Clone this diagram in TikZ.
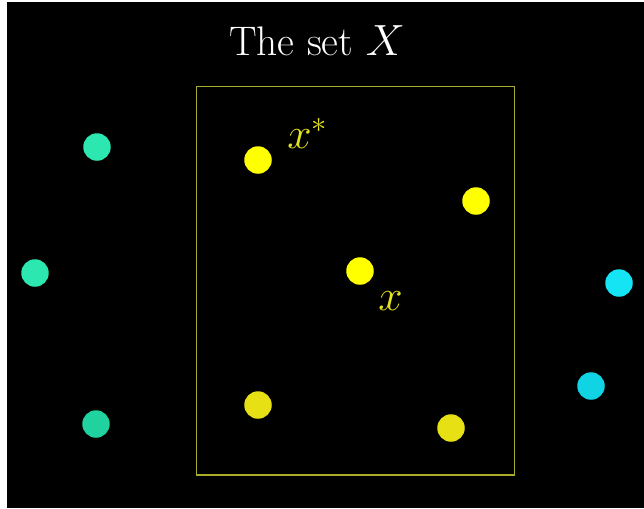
\documentclass[tikz,border=0pt]{standalone}
\usepackage{amsmath,amssymb}
\usepackage{tikz}
\usetikzlibrary{positioning}
\definecolor{sunny}{HTML}{FFFF00}
\definecolor{sunnydim}{HTML}{E6E014}
\definecolor{mint}{HTML}{2CE8B0}
\definecolor{mintdim}{HTML}{20D29E}
\definecolor{aqua}{HTML}{14E4F4}
\definecolor{aquadim}{HTML}{10D4E4}
\definecolor{olive}{HTML}{A8AC2A}
\definecolor{labelyel}{HTML}{E4E41E}

\begin{document}
\begin{tikzpicture}[x=0.02cm,y=-0.02cm,
    dot/.style={circle,inner sep=0pt,minimum size=0.55cm},
    ydot/.style={dot,fill=sunny},
    lbl/.style={inner sep=0pt,anchor=base west,text=labelyel,
                font=\fontsize{26}{30}\selectfont}]
  % canvas
  \fill[white] (0,0) rectangle (644,508);
  \fill[black] (7,2) rectangle (644,508);
  \useasboundingbox (0,0) rectangle (644,508);
  \node[inner sep=0pt,anchor=base,text=white,
        font=\fontsize{23.5}{28}\selectfont] (title) at (317,55) {The set $X$};
  % the set
  \draw[olive,line width=1.1pt] (196.5,86.5) rectangle (514.5,475);
  \node[ydot] (xstar) at (258,160) {};
  \node[ydot] (p1) at (476,201) {};
  \node[ydot] (x) at (360,271) {};
  \node[dot,fill=sunnydim] (p2) at (258,405) {};
  \node[dot,fill=sunnydim] (p3) at (451,428) {};
  \node[lbl] (lxstar) at (287,148) {$x^*$};
  \node[lbl] (lx) at (378,310) {$x$};
  % outside
  \node[dot,fill=mint] (o1) at (97,147) {};
  \node[dot,fill=mint] (o2) at (35,273) {};
  \node[dot,fill=mintdim] (o3) at (96,424) {};
  \node[dot,fill=aqua] (o4) at (619,283) {};
  \node[dot,fill=aquadim] (o5) at (591,386) {};
\end{tikzpicture}
\end{document}
